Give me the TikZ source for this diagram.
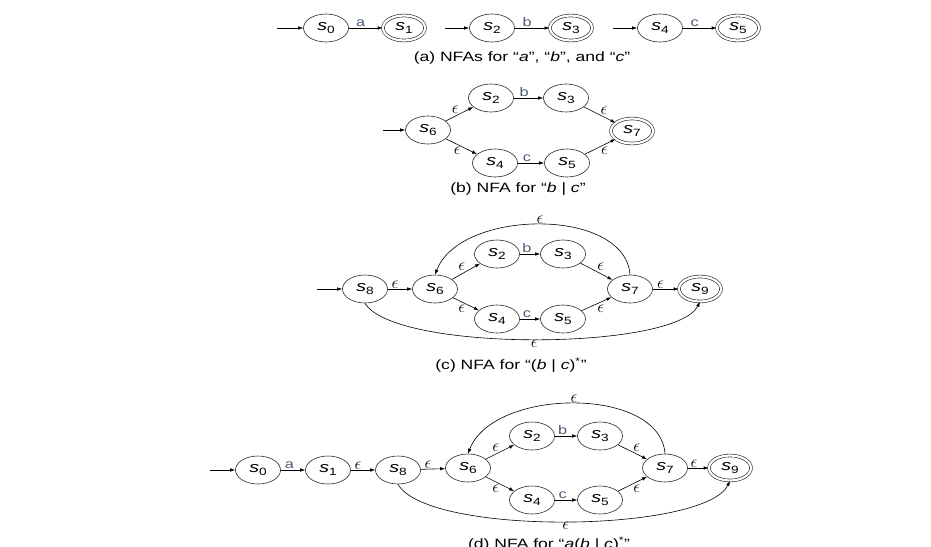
\documentclass[tikz,border=0pt]{standalone}
\usepackage{fontspec}
\setmainfont[FakeStretch=1.3]{Liberation Sans}
\usetikzlibrary{arrows.meta,shapes.geometric}
\definecolor{lblcol}{rgb}{0.30,0.36,0.48}
\newcommand{\st}[1]{\textit{s}\raisebox{-0.45ex}{\fontsize{10.5}{10.5}\selectfont #1}}
\tikzset{
  state/.style={draw=black!85,ellipse,minimum width=45pt,minimum height=28pt,inner sep=0pt,line width=0.6pt,font=\fontsize{15}{15}\selectfont},
  accept/.style={state,double,double distance=2.2pt,minimum width=42pt,minimum height=25pt},
  tr/.style={-{Latex[length=5pt,width=3.5pt]},line width=0.6pt},
  lbl/.style={font=\fontsize{12.5}{12.5}\selectfont,text=lblcol,inner sep=1.5pt},
  eps/.style={font=\fontsize{17}{17}\selectfont,inner sep=0.5pt},
  caption/.style={font=\fontsize{13.5}{13.5}\selectfont}
}
\begin{document}
\begin{tikzpicture}[x=1pt,y=-1pt]
\useasboundingbox (0,0) rectangle (931,546);

\node[state] (a0) at (326,28) {\st{0}};
\node[accept] (a1) at (404,28) {\st{1}};
\node[state] (a2) at (492,28) {\st{2}};
\node[accept] (a3) at (571,28) {\st{3}};
\node[state] (a4) at (660,28) {\st{4}};
\node[accept] (a5) at (738,28) {\st{5}};
\coordinate (ia0) at (277,28);
\coordinate (ia2) at (445,28);
\coordinate (ia4) at (613,28);
\draw[tr] (ia0) -- (a0);
\draw[tr] (ia2) -- (a2);
\draw[tr] (ia4) -- (a4);
\draw[tr] (a0) -- node[lbl,above,pos=0.35] {a} (a1);
\draw[tr] (a2) -- node[lbl,above,pos=0.35] {b} (a3);
\draw[tr] (a4) -- node[lbl,above,pos=0.35] {c} (a5);
\node[caption] (capa) at (522,58) {(a) NFAs for “\textit{a}”, “\textit{b}”, and “\textit{c}”};

\node[state] (b6) at (428,130) {\st{6}};
\node[state] (b2) at (491,98) {\st{2}};
\node[state] (b3) at (566,98) {\st{3}};
\node[accept] (b7) at (632,131) {\st{7}};
\node[state] (b4) at (495,163) {\st{4}};
\node[state] (b5) at (567,163) {\st{5}};
\coordinate (ib6) at (383,130);
\draw[tr] (ib6) -- (b6);
\draw[tr] (b6) -- node[eps,above left] {$\epsilon$} (b2);
\draw[tr] (b6) -- node[eps,below left] {$\epsilon$} (b4);
\draw[tr] (b2) -- node[lbl,above,pos=0.35] {b} (b3);
\draw[tr] (b4) -- node[lbl,above,pos=0.35] {c} (b5);
\draw[tr] (b3) -- node[eps,above right] {$\epsilon$} (b7);
\draw[tr] (b5) -- node[eps,below right] {$\epsilon$} (b7);
\node[caption] (capb) at (518,189) {(b) NFA for “\textit{b} | \textit{c}”};

\node[state] (c8) at (365,289) {\st{8}};
\node[state] (c6) at (435,289) {\st{6}};
\node[state] (c2) at (497,254) {\st{2}};
\node[state] (c3) at (563,254) {\st{3}};
\node[state] (c7) at (630,289) {\st{7}};
\node[accept] (c9) at (700,289) {\st{9}};
\node[state] (c4) at (497,319) {\st{4}};
\node[state] (c5) at (563,319) {\st{5}};
\coordinate (ic8) at (317,289);
\draw[tr] (ic8) -- (c8);
\draw[tr] (c8) -- node[eps,above,pos=0.3] {$\epsilon$} (c6);
\draw[tr] (c6) -- node[eps,above left] {$\epsilon$} (c2);
\draw[tr] (c6) -- node[eps,below left] {$\epsilon$} (c4);
\draw[tr] (c2) -- node[lbl,above,pos=0.35] {b} (c3);
\draw[tr] (c4) -- node[lbl,above,pos=0.35] {c} (c5);
\draw[tr] (c3) -- node[eps,above right] {$\epsilon$} (c7);
\draw[tr] (c5) -- node[eps,below right] {$\epsilon$} (c7);
\draw[tr] (c7) -- node[eps,above,pos=0.3] {$\epsilon$} (c9);
\draw[tr] (c7.north) .. controls +(-5,-68) and +(25,-66) .. node[eps,above] {$\epsilon$} (c6.north);
\draw[tr] (c8.south) .. controls +(30,49) and +(-25,49) .. node[eps,below] {$\epsilon$} (c9.south);
\node[caption] (capc) at (511,365) {(c) NFA for “(\textit{b} | \textit{c})\textsuperscript{*}”};

\node[state] (d0) at (258,470) {\st{0}};
\node[state] (d1) at (328,470) {\st{1}};
\node[state] (d8) at (398,470) {\st{8}};
\node[state] (d6) at (468,468) {\st{6}};
\node[state] (d2) at (532,436) {\st{2}};
\node[state] (d3) at (600,436) {\st{3}};
\node[state] (d7) at (665,468) {\st{7}};
\node[accept] (d9) at (730,468) {\st{9}};
\node[state] (d4) at (532,500) {\st{4}};
\node[state] (d5) at (600,500) {\st{5}};
\coordinate (id0) at (210,470);
\draw[tr] (id0) -- (d0);
\draw[tr] (d0) -- node[lbl,above,pos=0.35] {a} (d1);
\draw[tr] (d1) -- node[eps,above,pos=0.3] {$\epsilon$} (d8);
\draw[tr] (d8) -- node[eps,above,pos=0.3] {$\epsilon$} (d6);
\draw[tr] (d6) -- node[eps,above left] {$\epsilon$} (d2);
\draw[tr] (d6) -- node[eps,below left] {$\epsilon$} (d4);
\draw[tr] (d2) -- node[lbl,above,pos=0.35] {b} (d3);
\draw[tr] (d4) -- node[lbl,above,pos=0.35] {c} (d5);
\draw[tr] (d3) -- node[eps,above right] {$\epsilon$} (d7);
\draw[tr] (d5) -- node[eps,below right] {$\epsilon$} (d7);
\draw[tr] (d7) -- node[eps,above,pos=0.3] {$\epsilon$} (d9);
\draw[tr] (d7.north) .. controls +(-5,-68) and +(25,-66) .. node[eps,above] {$\epsilon$} (d6.north);
\draw[tr] (d8.south) .. controls +(30,52) and +(-25,52) .. node[eps,below] {$\epsilon$} (d9.south);
\node[caption] (capd) at (549,544) {(d) NFA for “\textit{a}(\textit{b} | \textit{c})\textsuperscript{*}”};
\end{tikzpicture}
\end{document}
